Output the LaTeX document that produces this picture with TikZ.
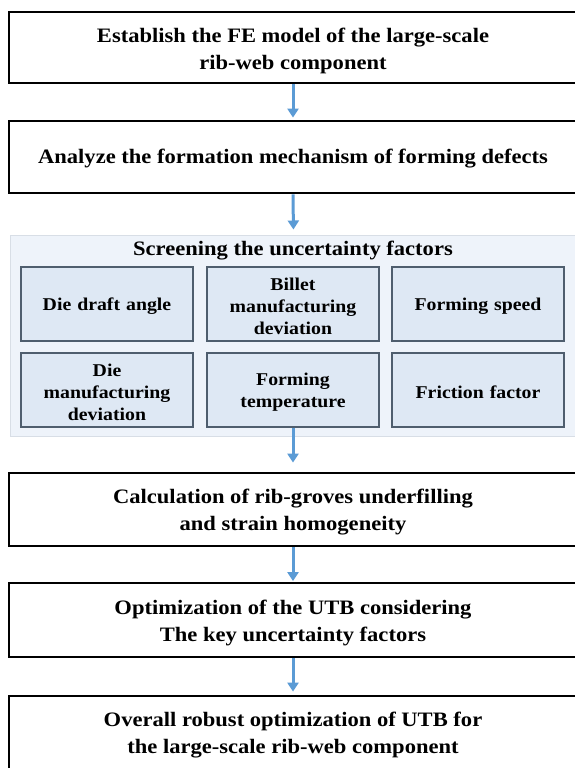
\documentclass[tikz,border=0pt]{standalone}
\usepackage{fontspec}
\setmainfont[FakeStretch=1.1]{Liberation Serif}
\usetikzlibrary{arrows.meta}
\definecolor{flowblue}{HTML}{5B9BD5}
\definecolor{panelfill}{HTML}{EEF3FA}
\definecolor{panelline}{HTML}{D8DEE6}
\definecolor{factorfill}{HTML}{DEE8F4}
\definecolor{factorline}{HTML}{4F5E6E}
\tikzset{
  stagebox/.style={draw=black, line width=2.8pt, fill=white, minimum width=568pt,
    inner sep=0pt},
  stagetext/.style={align=center, inner sep=0pt,
    font=\fontsize{20.5}{27}\selectfont\bfseries},
  factorbox/.style={draw=factorline, line width=1.3pt, fill=factorfill,
    minimum width=172pt, minimum height=74pt, inner sep=0pt},
  factortext/.style={text width=166pt, align=center, inner sep=0pt,
    font=\fontsize{18}{22}\selectfont\bfseries},
  flow/.style={draw=flowblue, line width=3pt,
    -{Triangle[width=11pt,length=9pt]}}
}
\begin{document}
\begin{tikzpicture}[x=1pt,y=-1pt]
\useasboundingbox (0,0) rectangle (575,768);
\clip (0,0) rectangle (575,768);
\fill[white] (0,0) rectangle (575,768);

% main stages (frame, then its wording set slightly low as in the layout)
\node[stagebox, minimum height=71pt] (s1) at (293,47.5) {};
\node[stagetext] (s1t) at ([yshift=-3pt]s1.center)
  {Establish the FE model of the large-scale\\rib-web component};
\node[stagebox, minimum height=72pt] (s2) at (293,157) {};
\node[stagetext] (s2t) at ([yshift=-2pt]s2.center)
  {Analyze the formation mechanism of forming defects};

% screening panel
\node[draw=panelline, line width=1pt, fill=panelfill, minimum width=567pt,
  minimum height=201pt, inner sep=0pt] (panel) at (293.5,335.5) {};
\node[font=\fontsize{20.5}{25}\selectfont\bfseries, inner sep=0pt] (ptitle) at (293,251)
  {Screening the uncertainty factors};

\node[factorbox] (f1) at (107,304) {};
\node[factorbox] (f2) at (293,304) {};
\node[factorbox] (f3) at (478,304) {};
\node[factorbox] (f4) at (107,390) {};
\node[factorbox] (f5) at (293,390) {};
\node[factorbox] (f6) at (478,390) {};
\node[factortext] (f1t) at ([yshift=-2pt]f1.center) {Die draft angle};
\node[factortext] (f2t) at ([yshift=-2pt]f2.center) {Billet\\manufacturing\\deviation};
\node[factortext] (f3t) at ([yshift=-2pt]f3.center) {Forming speed};
\node[factortext] (f4t) at ([yshift=-2pt]f4.center) {Die\\manufacturing\\deviation};
\node[factortext] (f5t) at ([yshift=-2pt]f5.center) {Forming\\temperature};
\node[factortext] (f6t) at ([yshift=-2pt]f6.center) {Friction factor};

\node[stagebox, minimum height=73pt] (s3) at (293,509.5) {};
\node[stagetext] (s3t) at ([yshift=-3pt]s3.center)
  {Calculation of rib-groves underfilling\\and strain homogeneity};
\node[stagebox, minimum height=74pt] (s4) at (293,620) {};
\node[stagetext] (s4t) at ([yshift=-3pt]s4.center)
  {Optimization of the UTB considering\\The key uncertainty factors};
\node[stagebox, minimum height=73pt] (s5) at (293,732.5) {};
\node[stagetext] (s5t) at ([yshift=-3pt]s5.center)
  {Overall robust optimization of UTB for\\the large-scale rib-web component};

% connectors
\draw[flow, shorten >=2pt] (s1.south) -- (s2.north);
\draw[flow, shorten >=5pt] (s2.south) -- (panel.north);
\draw[flow, shorten >=9pt] (f5.south) -- (s3.north);
\draw[flow, shorten >=0.5pt] (s3.south) -- (s4.north);
\draw[flow, shorten >=3pt] (s4.south) -- (s5.north);
\end{tikzpicture}
\end{document}
